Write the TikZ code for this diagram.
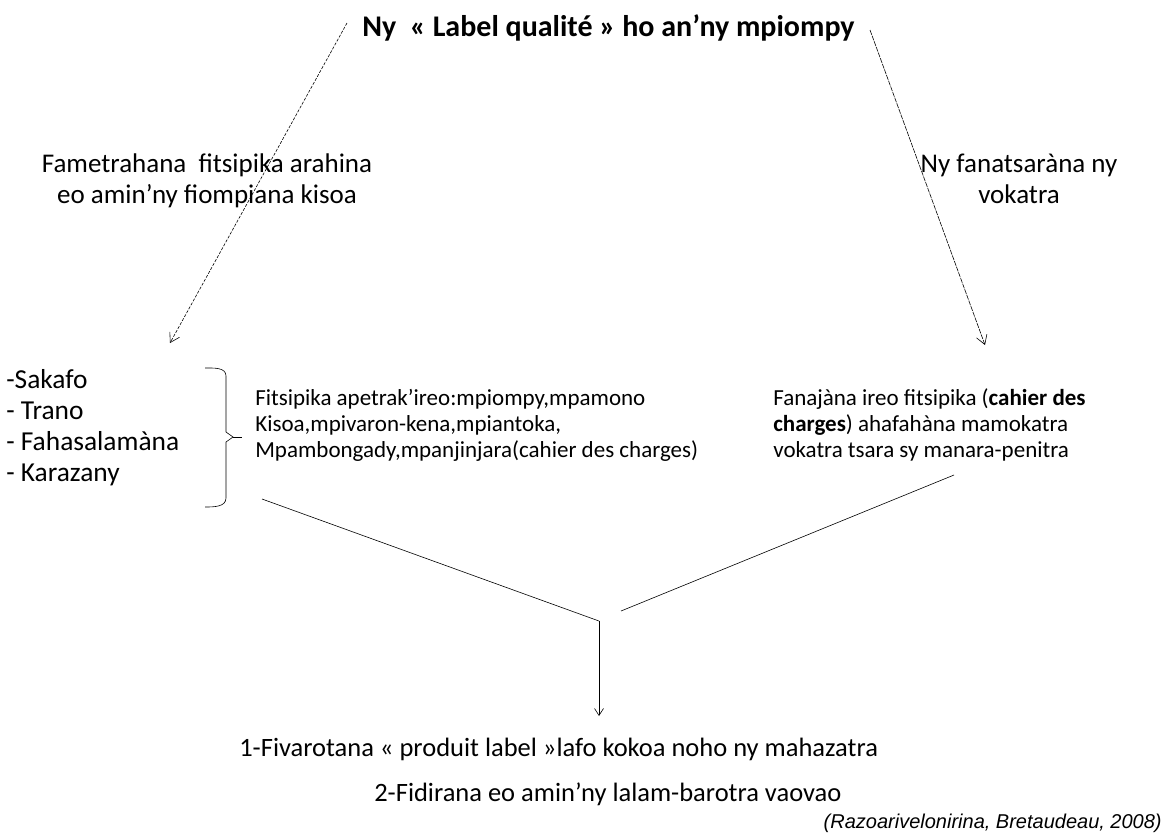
\documentclass[tikz,border=0pt]{standalone}
\usepackage{fontspec}
\setmainfont{Carlito}
\newfontfamily\citefont{Liberation Sans}
\usetikzlibrary{arrows.meta, positioning, calc}

\begin{document}
\begin{tikzpicture}[
    x=1pt, y=-1pt,
    line width=0.6pt,
    txt/.style={inner sep=0pt, anchor=base west, align=left},
    crit/.style={inner sep=0pt, anchor=base, align=center, font=\fontsize{27}{31}\selectfont},
    spec/.style={inner sep=0pt, anchor=base west, align=left, font=\fontsize{23}{26}\selectfont},
    outcome/.style={inner sep=0pt, anchor=base west, font=\fontsize{26.5}{30}\selectfont},
    flow/.style={-{Straight Barb[length=9pt,width=11pt]}, line width=0.6pt}
]
    \useasboundingbox (0,0) rectangle (1166,836);

    % Title
    \node[txt, font=\fontsize{30}{34}\selectfont\bfseries] (title) at (362,36) {Ny~ « Label qualité » ho an’ny mpiompy};

    % Two directions
    \node[crit] (critL) at (207,203) {Fametrahana~ fitsipika arahina\\eo amin’ny fiompiana kisoa};
    \node[crit] (critR) at (1019,203) {Ny fanatsaràna ny\\vokatra};

    \coordinate (lstart) at (347,23);
    \coordinate (lend) at (170,343);
    \coordinate (rstart) at (870,30);
    \coordinate (rend) at (985,345);
    \draw[flow, dash pattern=on 3pt off 1.5pt] (lstart) -- (lend);
    \draw[flow, dash pattern=on 5pt off 1pt] (rstart) -- (rend);

    % Items and bracket
    \node[txt, font=\fontsize{27.4}{31}\selectfont] (items) at (6,481) {-Sakafo\\- Trano\\- Fahasalamàna\\- Karazany};
    \draw (205,368) to[out=0,in=90] (226,376) -- (226,432) -- (233,437) -- (226,442) -- (226,498) to[out=-90,in=0] (205,507);
    \draw (233,437) -- (242,437);

    \node[spec] (specL) at (255,457) {Fitsipika apetrak’ireo:mpiompy,mpamono\\Kisoa,mpivaron-kena,mpiantoka,\\Mpambongady,mpanjinjara(cahier des charges)};
    \node[spec] (specR) at (773,457) {Fanajàna ireo fitsipika (\textbf{cahier des}\\\textbf{charges}) ahafahàna mamokatra\\vokatra tsara sy manara-penitra};

    % Merge
    \coordinate (mergeL) at (262,499);
    \coordinate (mergeR) at (954,475);
    \coordinate (join) at (599,621);
    \coordinate (joinR) at (621,611);
    \coordinate (outtop) at (599,716);
    \draw (mergeL) -- (join);
    \draw (mergeR) -- (joinR);
    \draw[-{Straight Barb[length=7pt,width=9pt]}] (join) -- (outtop);

    % Results
    \node[outcome] (out1) at (239,756) {1-Fivarotana « produit label »lafo kokoa noho ny mahazatra};
    \node[outcome] (out2) at (374,801) {2-Fidirana eo amin’ny lalam-barotra vaovao};
    \node[inner sep=0pt, anchor=base east, font=\fontsize{20}{24}\citefont\itshape] (src) at (1162,828) {(Razoarivelonirina, Bretaudeau, 2008)};
\end{tikzpicture}
\end{document}
